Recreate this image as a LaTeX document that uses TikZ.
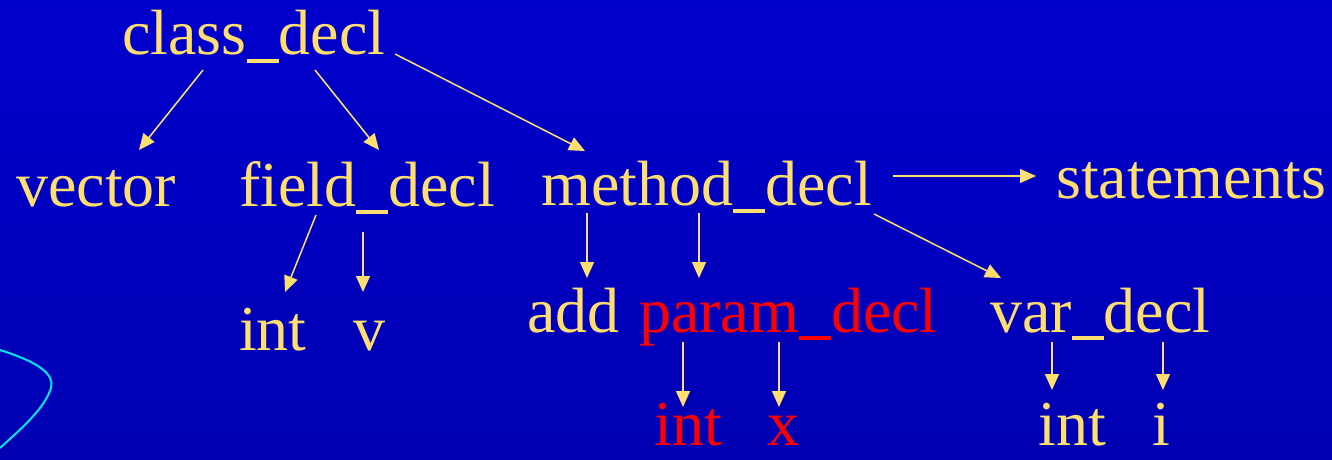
\documentclass[tikz,border=0pt]{standalone}
\usepackage{fontspec}
\setmainfont{Liberation Serif}
\usepackage{xcolor}
\usepackage{tikz}
\usetikzlibrary{arrows.meta,calc}

\definecolor{slideblue}{RGB}{0,0,204}
\definecolor{slidedark}{RGB}{0,0,178}
\definecolor{treeyellow}{RGB}{255,222,112}
\definecolor{treered}{RGB}{255,0,0}
\definecolor{curvecyan}{RGB}{0,230,240}

% thick underscore as on the slide
\newcommand{\us}{\rule[-0.12em]{0.5em}{0.065em}}

\tikzset{
    word/.style={anchor=base west, inner sep=0pt, text=treeyellow,
        font=\fontsize{64}{70}\selectfont},
    hot/.style={word, text=treered},
    edge/.style={draw=treeyellow, line width=1.5pt,
        -{Triangle[length=16pt,width=14pt]}}
}

\begin{document}
\begin{tikzpicture}[x=1pt,y=-1pt]
        % Slide background
        \shade[top color=slideblue, bottom color=slidedark] (0,0) rectangle (1332,460);
        \useasboundingbox (0,0) rectangle (1332,460);

        % Stray curve at the left edge
        \draw[curvecyan, line width=2pt] (0,350)
            .. controls (38,362) and (55,374) .. (51,388)
            .. controls (45,408) and (22,428) .. (0,448);

        % Tree nodes
        \node[word] (cls) at (122,55) {class\us decl};
        \node[word] (vec) at (16,206) {vector};
        \node[word] (fld) at (239,206) {field\us decl};
        \node[word] (mth) at (541,205) {method\us decl};
        \node[word] (stm) at (1056,198) {statements};
        \node[word] (fint) at (239,350) {int};
        \node[word] (fv) at (353,350) {v};
        \node[word] (add) at (527,332) {add};
        \node[hot] (prm) at (639,332) {param\us decl};
        \node[word] (var) at (990,332) {var\us decl};
        \node[hot] (pint) at (654,445) {int};
        \node[hot] (px) at (767,445) {x};
        \node[word] (vint) at (1038,445) {int};
        \node[word] (vi) at (1152,445) {i};

        % Edges of class_decl
        \draw[edge] ($(cls.base west)+(81,15)$) -- ($(vec.base west)+(123,-56)$);
        \draw[edge] ($(cls.base west)+(193,15)$) -- ($(fld.base west)+(140,-56)$);
        \draw[edge] ($(cls.base west)+(273,-1)$) -- ($(mth.base west)+(44,-54)$);

        % Edges of field_decl
        \draw[edge] ($(fld.base west)+(77,9)$) -- ($(fint.base west)+(46,-58)$);
        \draw[edge] ($(fld.base west)+(124,26)$) -- ($(fv.base west)+(10,-58)$);

        % Edges of method_decl
        \draw[edge] ($(mth.base west)+(46,8)$) -- ($(add.base west)+(60,-54)$);
        \draw[edge] ($(mth.base west)+(158,8)$) -- ($(prm.base west)+(60,-54)$);
        \draw[edge] ($(mth.base west)+(333,9)$) -- ($(var.base west)+(11,-54)$);
        \draw[edge] ($(mth.base west)+(352,-29)$) -- ($(stm.base west)+(-20,-22)$);

        % Edges of param_decl and var_decl
        \draw[edge] ($(prm.base west)+(44,10)$) -- ($(pint.base west)+(29,-38)$);
        \draw[edge] ($(prm.base west)+(140,10)$) -- ($(px.base west)+(12,-38)$);
        \draw[edge] ($(var.base west)+(62,10)$) -- ($(vint.base west)+(14,-55)$);
        \draw[edge] ($(var.base west)+(173,10)$) -- ($(vi.base west)+(11,-55)$);
    \end{tikzpicture}
\end{document}
